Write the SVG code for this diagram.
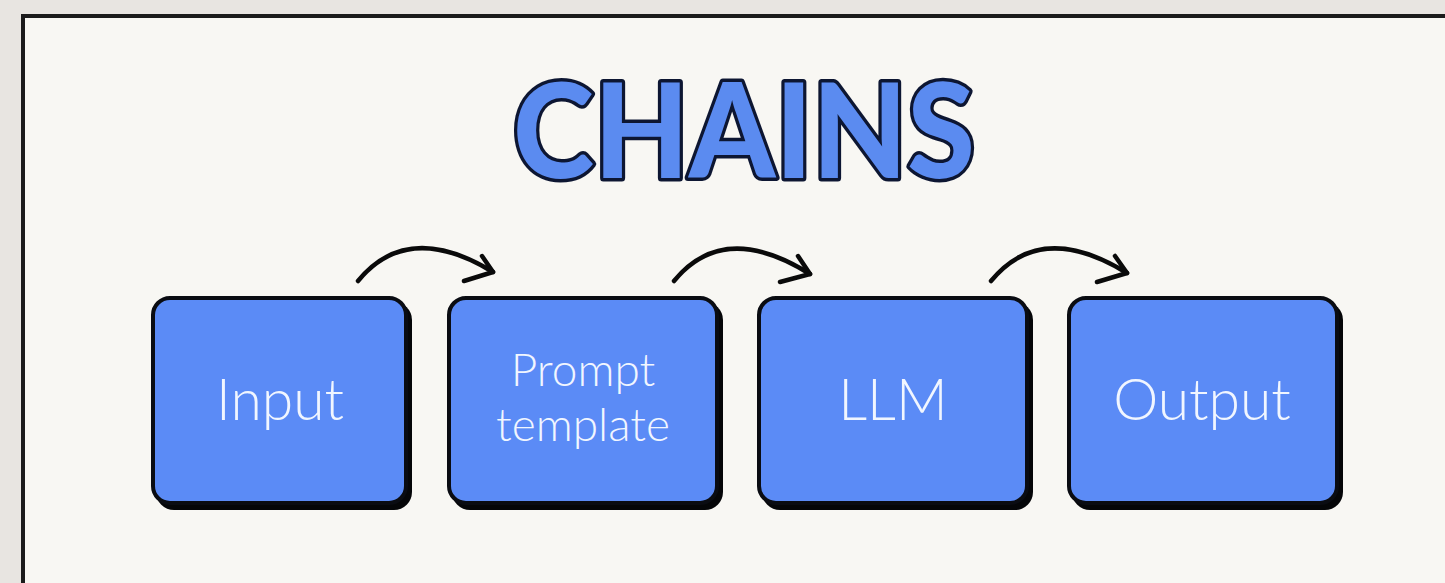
<svg xmlns="http://www.w3.org/2000/svg" width="1445" height="583" viewBox="0 0 1445 583">
  <style>
    .shadow { fill: #050608; }
    .box { fill: #5b8bf6; stroke: #0a0c12; stroke-width: 4; }
    .label { font-family: Lato, "Noto Sans", sans-serif; font-weight: 300; fill: #f1f6ff; text-anchor: middle; }
    .title { font-family: Lato, "Open Sans", sans-serif; font-weight: 900; font-size: 132px; fill: #5b8bf0; stroke: #0d1632; stroke-width: 7; stroke-linejoin: round; paint-order: stroke; text-anchor: middle; }
    .conn { fill: none; stroke: #0a0a0a; stroke-width: 4.5; stroke-linecap: round; stroke-linejoin: round; }
  </style>

  <!-- page background and framed panel -->
  <rect x="0" y="0" width="1445" height="583" fill="#e8e5e1"/>
  <rect x="23" y="16" width="1440" height="590" fill="#f8f7f3" stroke="#1b1b1b" stroke-width="4"/>

  <!-- heading -->
  <g id="title">
    <text class="title" x="744" y="178" textLength="462" lengthAdjust="spacingAndGlyphs">CHAINS</text>
  </g>

  <!-- connectors -->
  <g id="connectors">
    <path class="conn" d="M358,281 Q408,220 493,272"/>
    <path class="conn" d="M482,256 L493,272 L464,281"/>
    <path class="conn" d="M674,281 Q724,220 810,274"/>
    <path class="conn" d="M798,256 L810,274 L780,282"/>
    <path class="conn" d="M991,281 Q1041,220 1127,273"/>
    <path class="conn" d="M1115,256 L1127,273 L1097,282"/>
  </g>

  <!-- nodes -->
  <g id="node-input">
    <rect class="shadow" x="156" y="302" width="256" height="208" rx="18"/>
    <rect class="box" x="153" y="298" width="253" height="205" rx="17"/>
    <text class="label" x="280" y="420" font-size="57">Input</text>
  </g>

  <g id="node-prompt">
    <rect class="shadow" x="452" y="302" width="271" height="208" rx="18"/>
    <rect class="box" x="449" y="298" width="268" height="205" rx="17"/>
    <text class="label" x="583" y="386" font-size="46">Prompt</text>
    <text class="label" x="583" y="441" font-size="46">template</text>
  </g>

  <g id="node-llm">
    <rect class="shadow" x="762" y="302" width="271" height="208" rx="18"/>
    <rect class="box" x="759" y="298" width="268" height="205" rx="17"/>
    <text class="label" x="893" y="420" font-size="57">LLM</text>
  </g>

  <g id="node-output">
    <rect class="shadow" x="1072" y="302" width="271" height="208" rx="18"/>
    <rect class="box" x="1069" y="298" width="268" height="205" rx="17"/>
    <text class="label" x="1202" y="420" font-size="57">Output</text>
  </g>
</svg>
